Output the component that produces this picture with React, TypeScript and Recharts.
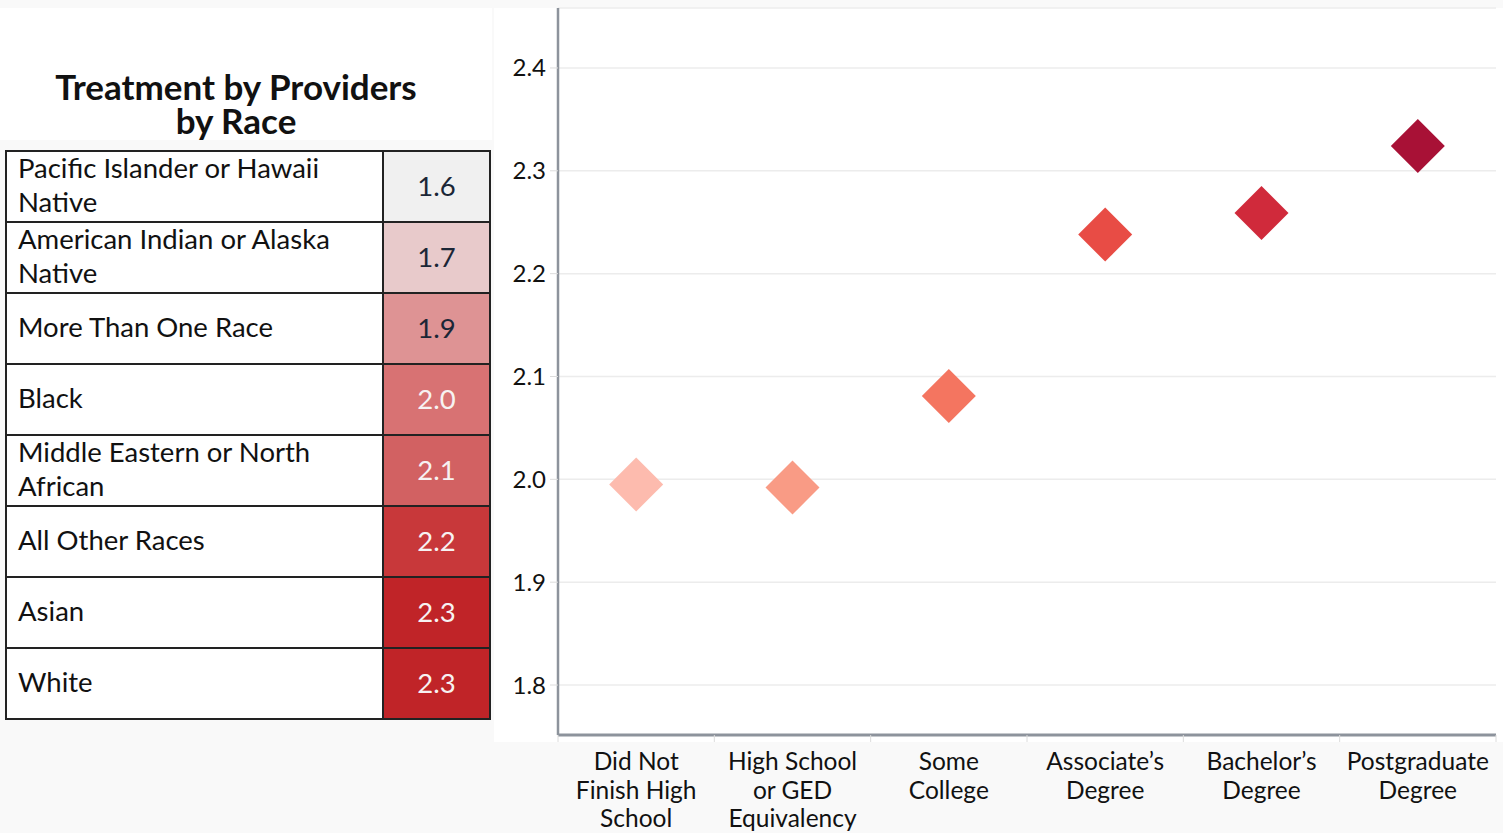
import React from "react";
import { ScatterChart, Scatter, XAxis, YAxis, CartesianGrid, Cell } from "recharts";

// Race table
const raceLabels = [
  "Pacific Islander or Hawaii Native",
  "American Indian or Alaska Native",
  "More Than One Race",
  "Black",
  "Middle Eastern or North African",
  "All Other Races",
  "Asian",
  "White",
];
const raceValues = [1.6, 1.7, 1.9, 2.0, 2.1, 2.2, 2.3, 2.3];
const raceFills = ["#f0f0f0", "#e8cacb", "#de9394", "#d87273", "#d26162", "#c8383a", "#c02428", "#c02428"];
const raceTextColors = ["#1b2636", "#1b2636", "#1b2636", "#f7f2f2", "#f7f2f2", "#f7f2f2", "#f7f2f2", "#f7f2f2"];

// Education scatter
const educationLevels = [
  "Did Not Finish High School",
  "High School or GED Equivalency",
  "Some College",
  "Associate’s Degree",
  "Bachelor’s Degree",
  "Postgraduate Degree",
];
const educationTickLines = [
  ["Did Not", "Finish High", "School"],
  ["High School", "or GED", "Equivalency"],
  ["Some", "College"],
  ["Associate’s", "Degree"],
  ["Bachelor’s", "Degree"],
  ["Postgraduate", "Degree"],
];
const educationValues = [1.995, 1.992, 2.081, 2.238, 2.259, 2.324];
const educationColors = ["#fdbbae", "#f99b85", "#f47560", "#e84c45", "#d02a3b", "#a81136"];
const yTicks = [1.8, 1.9, 2.0, 2.1, 2.2, 2.3, 2.4];

const scatterData = educationLevels.map((level, i) => ({ level, value: educationValues[i] }));

const FONT = "Lato, 'Open Sans', sans-serif";

const Diamond = (props: any) => {
  const { cx, cy, fill } = props;
  const r = 27;
  return (
    <polygon
      points={`${cx},${cy - r} ${cx + r},${cy} ${cx},${cy + r} ${cx - r},${cy}`}
      fill={fill}
    />
  );
};

const XTick = (props: any) => {
  const { x, y, payload, index } = props;
  const off = payload.offset || 0;
  const lines = educationTickLines[index] || [payload.value];
  return (
    <g>
      <line x1={x - off} x2={x - off} y1={y} y2={y + 7} stroke="#dcdcdc" strokeWidth={1} />
      {index === educationLevels.length - 1 && (
        <line x1={x + off} x2={x + off} y1={y} y2={y + 7} stroke="#dcdcdc" strokeWidth={1} />
      )}
      <text x={x} y={y + 35} textAnchor="middle" fontFamily={FONT} fontSize={24.5} fill="#111">
        {lines.map((l: string, i: number) => (
          <tspan key={i} x={x} dy={i === 0 ? 0 : 28.5}>
            {l}
          </tspan>
        ))}
      </text>
    </g>
  );
};

function RaceTable() {
  return (
    <table
      style={{
        position: "absolute",
        left: 5,
        top: 150,
        width: 484,
        height: 569,
        borderCollapse: "collapse",
        fontFamily: FONT,
        fontSize: 27.5,
        background: "#fff",
        tableLayout: "fixed",
      }}
    >
      <colgroup>
        <col style={{ width: 377 }} />
        <col style={{ width: 107 }} />
      </colgroup>
      <tbody>
        {raceLabels.map((label, i) => (
          <tr key={label} style={{ height: 71 }}>
            <td
              style={{
                border: "2px solid #222",
                padding: "0 8px 0 11px",
                lineHeight: "34px",
                color: "#111",
              }}
            >
              <div style={{ position: "relative", top: -2 }}>{label}</div>
            </td>
            <td
              style={{
                border: "2px solid #222",
                background: raceFills[i],
                color: raceTextColors[i],
                textAlign: "center",
                padding: 0,
                lineHeight: "34px",
              }}
            >
              <div style={{ position: "relative", top: -1 }}>{raceValues[i].toFixed(1)}</div>
            </td>
          </tr>
        ))}
      </tbody>
    </table>
  );
}

export default function App() {
  return (
    <div
      style={{
        position: "absolute",
        left: 0,
        top: 0,
        width: 1503,
        height: 833,
        background: "#f9f9f9",
        overflow: "hidden",
        fontFamily: FONT,
      }}
    >
      <div
        style={{
          position: "absolute",
          left: 0,
          top: 8,
          width: 492,
          height: 132,
          background: "#fff",
        }}
      />
      <div
        style={{
          position: "absolute",
          left: 0,
          top: 69,
          width: 472,
          textAlign: "center",
          fontWeight: 700,
          fontSize: 35,
          lineHeight: "34px",
          color: "#111",
        }}
      >
        Treatment by Providers
        <br />
        by Race
      </div>
      <RaceTable />
      <div
        style={{
          position: "absolute",
          left: 494,
          top: 8,
          width: 1009,
          height: 734,
          background: "#fff",
        }}
      />
      <div style={{ position: "absolute", left: 494, top: 0 }}>
        <ScatterChart width={1009} height={833} margin={{ top: 8, right: 7, bottom: 0, left: 0 }}>
          <CartesianGrid vertical={false} stroke="#ececec" strokeWidth={1.5} />
          <XAxis
            dataKey="level"
            type="category"
            allowDuplicatedCategory={false}
            height={98}
            tickLine={false}
            tickSize={0}
            tickMargin={0}
            interval={0}
            axisLine={{ stroke: "#8d939c", strokeWidth: 3 }}
            tick={<XTick />}
          />
          <YAxis
            dataKey="value"
            type="number"
            domain={[1.7514, 2.4583]}
            ticks={yTicks}
            width={64}
            tickSize={8}
            tickMargin={4}
            tickLine={{ stroke: "#dcdcdc" }}
            axisLine={{ stroke: "#8d939c", strokeWidth: 2.5 }}
            tick={{ fill: "#111", fontSize: 24, fontFamily: FONT }}
            tickFormatter={(v: number) => v.toFixed(1)}
          />
          <Scatter data={scatterData} shape={<Diamond />} isAnimationActive={false}>
            {scatterData.map((d, i) => (
              <Cell key={d.level} fill={educationColors[i]} />
            ))}
          </Scatter>
        </ScatterChart>
      </div>
    </div>
  );
}
